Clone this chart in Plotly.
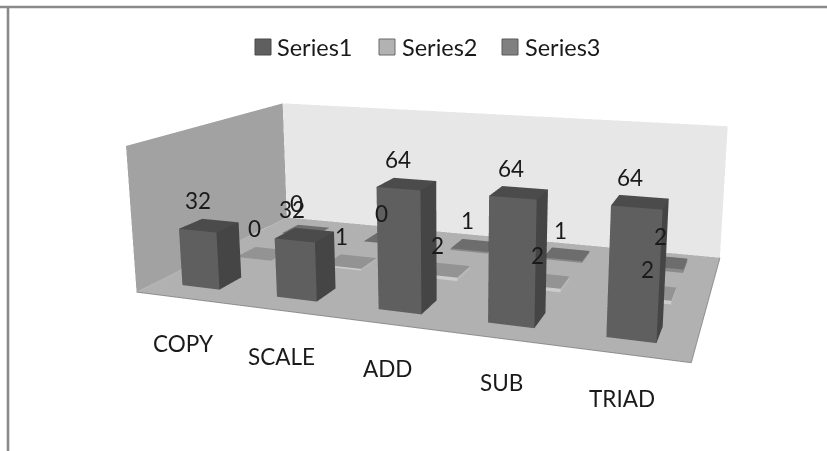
import plotly.graph_objects as go

categories = ["COPY", "SCALE", "ADD", "SUB", "TRIAD"]
series_names = ["Series1", "Series2", "Series3"]
series1 = [32, 32, 64, 64, 64]
series2 = [0, 1, 2, 2, 2]
series3 = [0, 0, 1, 1, 2]
axis_max = 80

# Label nudges, in pixels, away from the point each label is anchored to
label_dx = [[-11, -13, -9, -8, -10], [-9, -9, -7, -7, -4], [-9, -6, -7, -6, -4]]
label_dy = [[25, 25, 24, 24, 25], [25, 25, 24, 25, 22], [27, 25, 25, 24, 26]]
cat_dx = [0, 0, 0, 0, -3]
cat_dy = [-46, -46, -45, -44, -44]

FIG_W, FIG_H, TOP = 910, 812, -232
def px(x): return x / FIG_W
def py(y): return 1 - (y - TOP) / FIG_H

BASE = 0.5
BAR = 0.4
FLAT = dict(ambient=1, diffuse=0, specular=0, fresnel=0, roughness=1)
SER = [
    dict(front="#5f5f5f", side="#454545", top="#4b4b4b", swatch="#5f5f5f", edge="#4a4a4a"),
    dict(front="#cccccc", side="#b8b8b8", top="#939393", swatch="#b2b2b2", edge="#6a6a6a"),
    dict(front="#8a8a8a", side="#7c7c7c", top="#6d6d6d", swatch="#808080", edge="#5a5a5a"),
]

def box_mesh(values, k, s):
    X, Y, Z, I, J, K, C = [], [], [], [], [], [], []
    for c, v in enumerate(values):
        x0, x1 = c + .5 - BAR / 2, c + .5 + BAR / 2
        y0, y1 = k + .5 - BAR / 2, k + .5 + BAR / 2
        z0, z1 = BASE, BASE + v
        n = len(X)
        for a, b, d in [(x0, y0, z0), (x1, y0, z0), (x1, y1, z0), (x0, y1, z0),
                        (x0, y0, z1), (x1, y0, z1), (x1, y1, z1), (x0, y1, z1)]:
            X.append(a); Y.append(b); Z.append(d)
        quads = [((0, 1, 5, 4), s["front"]), ((1, 2, 6, 5), s["side"]),
                 ((4, 5, 6, 7), s["top"]), ((3, 0, 4, 7), s["side"])]
        for (a, b, d, e), col in quads:
            I += [n + a, n + a]; J += [n + b, n + d]; K += [n + d, n + e]; C += [col, col]
    return go.Mesh3d(x=X, y=Y, z=Z, i=I, j=J, k=K, facecolor=C, flatshading=True,
                     hoverinfo="skip", showlegend=False, name=series_names[k], lighting=FLAT)

fig = go.Figure()
nc, ns = len(categories), len(series_names)
fig.add_trace(go.Mesh3d(
    x=[0, nc, nc, 0, 0, nc, nc, 0], y=[0, 0, ns, ns, 0, 0, ns, ns],
    z=[0, 0, 0, 0, axis_max, axis_max, axis_max, axis_max],
    i=[0, 0, 3, 3, 0, 0], j=[1, 2, 2, 6, 3, 7], k=[2, 3, 6, 7, 7, 4],
    facecolor=["#b1b1b1", "#b1b1b1", "#e7e7e7", "#e7e7e7", "#a2a2a2", "#a2a2a2"],
    flatshading=True, hoverinfo="skip", showlegend=False, lighting=FLAT))
fig.add_trace(go.Scatter3d(x=[0, nc, nc], y=[0, 0, ns], z=[0, 0, 0], mode="lines",
                           line=dict(color="#8e8e8e", width=2), hoverinfo="skip", showlegend=False))
vals = [series1, series2, series3]
for k in range(ns):
    fig.add_trace(box_mesh(vals[k], k, SER[k]))

FONT = dict(family="Lato", size=22.5, color="#1a1a1a")
annots = []
for k in range(ns):
    for c, v in enumerate(vals[k]):
        annots.append(dict(x=c + .5, y=k + .5, z=BASE + v, text=str(v), showarrow=False, font=FONT,
                           xanchor="center", yanchor="middle", ax=0, ay=0,
                           xshift=label_dx[k][c], yshift=label_dy[k][c]))
for c, name in enumerate(categories):
    annots.append(dict(x=c + .5, y=0, z=0, text=name, showarrow=False, font=FONT,
                       xanchor="center", yanchor="middle", ax=0, ay=0,
                       xshift=cat_dx[c], yshift=cat_dy[c]))

shapes = [
    dict(type="line", xref="paper", yref="paper", x0=px(0), x1=px(827), y0=py(7), y1=py(7),
         line=dict(color="#8a8a8a", width=2.6)),
    dict(type="line", xref="paper", yref="paper", x0=px(8), x1=px(8), y0=py(7), y1=py(451),
         line=dict(color="#8a8a8a", width=2.6)),
]
legend_swatch_x = [255, 379, 502]
legend_text_x = [277, 402, 525]
legend_notes = []
for k, name in enumerate(series_names):
    shapes.append(dict(type="rect", xref="paper", yref="paper",
                       x0=px(legend_swatch_x[k]), x1=px(legend_swatch_x[k] + 16), y0=py(39), y1=py(55),
                       fillcolor=SER[k]["swatch"], line=dict(color=SER[k]["edge"], width=1)))
    legend_notes.append(dict(xref="paper", yref="paper", x=px(legend_text_x[k]), y=py(47), text=name,
                             showarrow=False, xanchor="left", yanchor="middle", xshift=-2,
                             font=dict(family="Lato", size=23.5, color="#1a1a1a")))

fig.update_layout(
    width=FIG_W, height=FIG_H, margin=dict(l=0, r=0, t=0, b=0), paper_bgcolor="white",
    showlegend=False, shapes=shapes, annotations=legend_notes,
    scene=dict(
        domain=dict(x=[0, 1], y=[0, 1]),
        xaxis=dict(visible=False, range=[0, nc]),
        yaxis=dict(visible=False, range=[0, ns]),
        zaxis=dict(visible=False, range=[0, axis_max]),
        aspectmode="manual", aspectratio=dict(x=1, y=0.5723, z=0.2738),
        camera=dict(eye=dict(x=0.6153, y=-1.7205, z=0.4570),
                    center=dict(x=0.0030, y=0.0555, z=0.0513),
                    up=dict(x=-0.0195, y=0.0566, z=1)),
        bgcolor="rgba(0,0,0,0)", annotations=annots),
)
post = ("document.body.style.margin='0';document.body.style.overflow='hidden';"
        "var g=document.getElementById('{plot_id}');g.style.position='absolute';"
        "g.style.left='0px';g.style.top='%dpx';" % TOP)
fig.write_html("out.html", post_script=post)
